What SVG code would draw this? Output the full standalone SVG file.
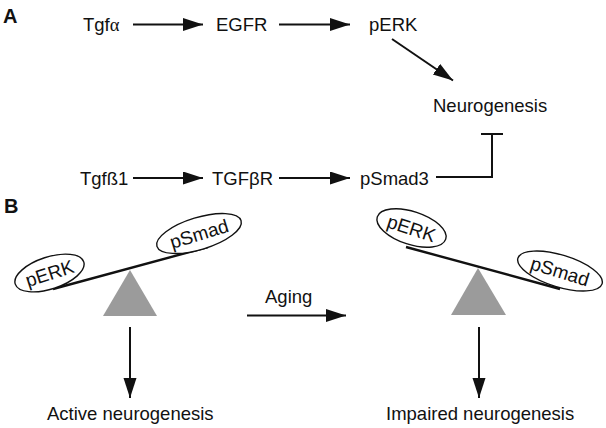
<svg xmlns="http://www.w3.org/2000/svg" width="606" height="428" viewBox="0 0 606 428">
<style>
text{font-family:"Liberation Sans",Arial,sans-serif;font-size:18.5px;fill:#111}
.lbl{font-weight:bold;font-size:20px}
.et{font-size:19px}
.ln{stroke:#111;stroke-width:2;fill:none}
.ell{fill:#fff;stroke:#111;stroke-width:1.4}
.tri{fill:#9b9b9b}
.beam{stroke:#111;stroke-width:2.4}
</style>
<defs>
<marker id="ah" markerUnits="userSpaceOnUse" markerWidth="21" markerHeight="14" refX="20" refY="6.5" orient="auto">
<path d="M0,0 L20,6.5 L0,13 z" fill="#111"/>
</marker>
</defs>
<text class="lbl" x="3" y="23">A</text>
<text class="lbl" x="4" y="213">B</text>
<g id="tgfa"><text x="83" y="31">Tgf<tspan font-family="'Liberation Serif',serif">&#945;</tspan></text></g>
<g id="egfr"><text x="216" y="31">EGFR</text></g>
<g id="perk"><text x="369" y="31">pERK</text></g>
<g id="neuro"><text x="433" y="112">Neurogenesis</text></g>
<g id="tgfb1"><text x="80" y="185">Tgf&#223;1</text></g>
<g id="tgfbr"><text x="212" y="185">TGF&#946;R</text></g>
<g id="psmad3"><text x="360" y="185">pSmad3</text></g>
<g id="seesaw-left">
<polygon class="tri" points="130,270 103,316 157,316"/>
<line class="beam" x1="53" y1="289" x2="208" y2="247"/>
<g transform="translate(49.5,273) rotate(-18)"><ellipse class="ell" cx="0" cy="0" rx="36" ry="16"/><text class="et" x="0" y="7" text-anchor="middle">pERK</text></g>
<g transform="translate(199,233.5) rotate(-17)"><ellipse class="ell" cx="0" cy="0" rx="44" ry="16"/><text class="et" x="0" y="7" text-anchor="middle">pSmad</text></g>
</g>
<g id="seesaw-right">
<polygon class="tri" points="478,268 451,315 506,315"/>
<line class="beam" x1="406" y1="247" x2="560" y2="289"/>
<g transform="translate(411.5,228) rotate(18)"><ellipse class="ell" cx="0" cy="0" rx="36" ry="16.5"/><text class="et" x="0" y="7" text-anchor="middle">pERK</text></g>
<g transform="translate(560,271) rotate(17)"><ellipse class="ell" cx="0" cy="0" rx="44" ry="16"/><text class="et" x="0" y="7" text-anchor="middle">pSmad</text></g>
</g>
<g id="active"><text x="47" y="420">Active neurogenesis</text></g>
<g id="impaired"><text x="386" y="420">Impaired neurogenesis</text></g>
<g id="aging"><text x="265" y="303">Aging</text></g>
<g id="connectors">
<line class="ln" x1="133" y1="24.5" x2="203" y2="24.5" marker-end="url(#ah)"/>
<line class="ln" x1="279" y1="24.5" x2="350" y2="24.5" marker-end="url(#ah)"/>
<line class="ln" x1="392" y1="39" x2="453" y2="80.5" marker-end="url(#ah)"/>
<line class="ln" x1="133" y1="178" x2="203" y2="178" marker-end="url(#ah)"/>
<line class="ln" x1="279" y1="178" x2="350" y2="178" marker-end="url(#ah)"/>
<polyline class="ln" points="436,177 492,177 492,134"/>
<line class="ln" x1="481" y1="134" x2="503" y2="134"/>
<line class="ln" x1="247" y1="315.5" x2="346" y2="315.5" marker-end="url(#ah)"/>
<line class="ln" x1="130" y1="327" x2="130" y2="398" marker-end="url(#ah)"/>
<line class="ln" x1="479" y1="327" x2="479" y2="398" marker-end="url(#ah)"/>
</g>
</svg>
